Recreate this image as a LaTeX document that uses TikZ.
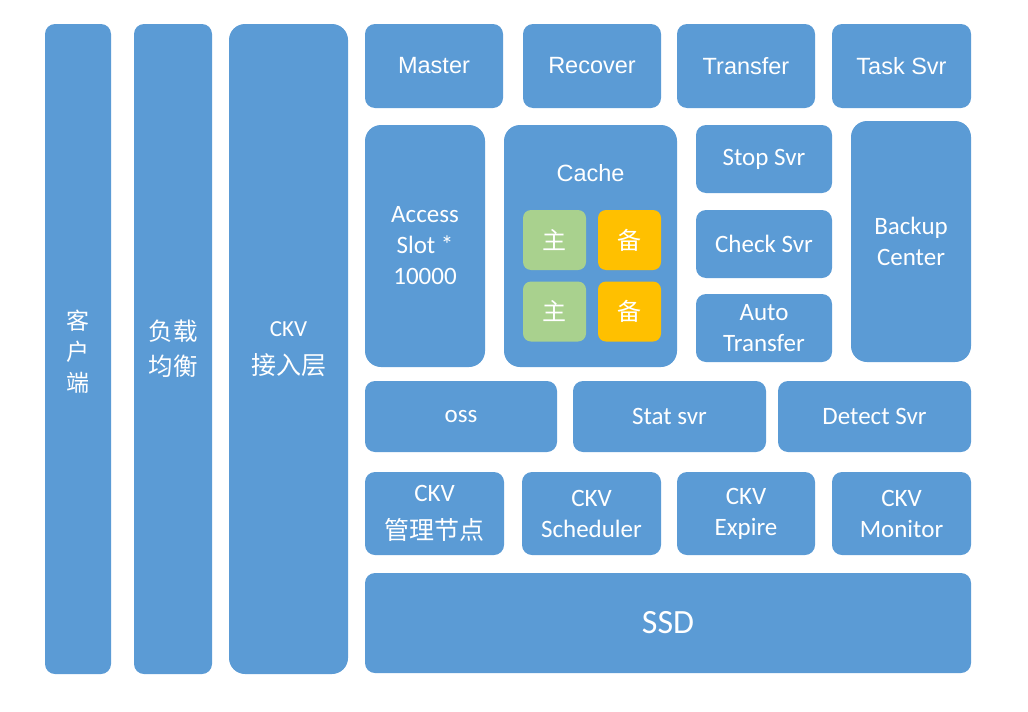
\documentclass[tikz,border=0pt]{standalone}
\usepackage{fontspec}
\setmainfont{Carlito}
\newfontfamily\arialfont{Liberation Sans}
\newfontfamily\cjk{Noto Sans CJK SC}
\definecolor{boxblue}{HTML}{5B9BD5}
\definecolor{mastergreen}{HTML}{A9D18E}
\definecolor{backuporange}{HTML}{FFC000}

\begin{document}
\begin{tikzpicture}[x=1pt,y=-1pt,
    blk/.style={fill=boxblue,rounded corners=10pt,text=white,align=center,
      inner sep=0pt,font=\fontsize{25}{31}\selectfont},
    bigblk/.style={blk,rounded corners=16pt},
    topblk/.style={blk,font=\arialfont\fontsize{23.5}{30}\selectfont},
    cell/.style={rounded corners=8pt,text=white,inner sep=0pt,
      minimum width=63pt,minimum height=60pt,font=\cjk\fontsize{24}{26}\selectfont}]
  \useasboundingbox (0,0) rectangle (1028,712);
  % left columns
  \node[blk,minimum width=66pt,minimum height=650pt,font=\cjk\fontsize{23}{31}\selectfont]
    (client) at (78,349) {\\[-6pt]客\\户\\端};
  \node[blk,minimum width=78pt,minimum height=650pt,font=\cjk\fontsize{24.5}{35}\selectfont]
    (lb) at (173,349) {负载\\均衡};
  \node[bigblk,minimum width=119pt,minimum height=650pt,font=\fontsize{23}{38}\selectfont]
    (access layer) at (288.5,349) {CKV\\{\cjk\fontsize{25}{38}\selectfont 接入层}};
  % top row
  \node[topblk,minimum width=138pt,minimum height=84pt] (master) at (434,66) {Master};
  \node[topblk,minimum width=138pt,minimum height=84pt] (recover) at (592,66) {Recover};
  \node[topblk,minimum width=138pt,minimum height=84pt] (transfer) at (746,66) {Transfer};
  \node[topblk,minimum width=139pt,minimum height=84pt] (tasksvr) at (901.5,66) {Task Svr};
  % middle block
  \node[bigblk,minimum width=120pt,minimum height=242pt] (slot) at (425,246)
    {Access\\Slot *\\10000};
  \node[bigblk,minimum width=173pt,minimum height=242pt,
    label={[anchor=north,yshift=-36pt,text=white,font=\arialfont\fontsize{23.5}{26}\selectfont]north:Cache}]
    (cache) at (590.5,246) {};
  \node[cell,fill=mastergreen] (main1) at (554.5,240) {主};
  \node[cell,fill=backuporange] (standby1) at (629.5,240) {备};
  \node[cell,fill=mastergreen] (main2) at (554.5,311.5) {主};
  \node[cell,fill=backuporange] (standby2) at (629.5,311.5) {备};
  \node[blk,minimum width=136pt,minimum height=68pt] (stopsvr) at (764,159) {Stop Svr};
  \node[blk,minimum width=136pt,minimum height=68pt] (checksvr) at (764,244) {Check Svr};
  \node[blk,minimum width=136pt,minimum height=68pt] (autotransfer) at (764,328) {Auto\\Transfer};
  \node[bigblk,minimum width=120pt,minimum height=241pt] (backup) at (911,241.5) {Backup\\Center};
  % service row
  \node[blk,minimum width=192pt,minimum height=71pt] (oss) at (461,416.5) {oss};
  \node[blk,minimum width=193pt,minimum height=71pt] (statsvr) at (669.5,416.5) {Stat svr};
  \node[blk,minimum width=193pt,minimum height=71pt] (detectsvr) at (874.5,416.5) {Detect Svr};
  % ckv row
  \node[blk,minimum width=139pt,minimum height=83pt,font=\fontsize{25}{38}\selectfont]
    (mgmt) at (434.5,513.5) {CKV\\{\cjk 管理节点}};
  \node[blk,minimum width=139pt,minimum height=83pt] (scheduler) at (591.5,513.5) {CKV\\Scheduler};
  \node[blk,minimum width=138pt,minimum height=83pt] (expire) at (746,513.5) {CKV\\Expire};
  \node[blk,minimum width=139pt,minimum height=83pt] (monitor) at (901.5,513.5) {CKV\\Monitor};
  % storage
  \node[blk,minimum width=606pt,minimum height=100pt,font=\fontsize{34}{38}\selectfont]
    (ssd) at (668,623) {SSD};
\end{tikzpicture}
\end{document}
